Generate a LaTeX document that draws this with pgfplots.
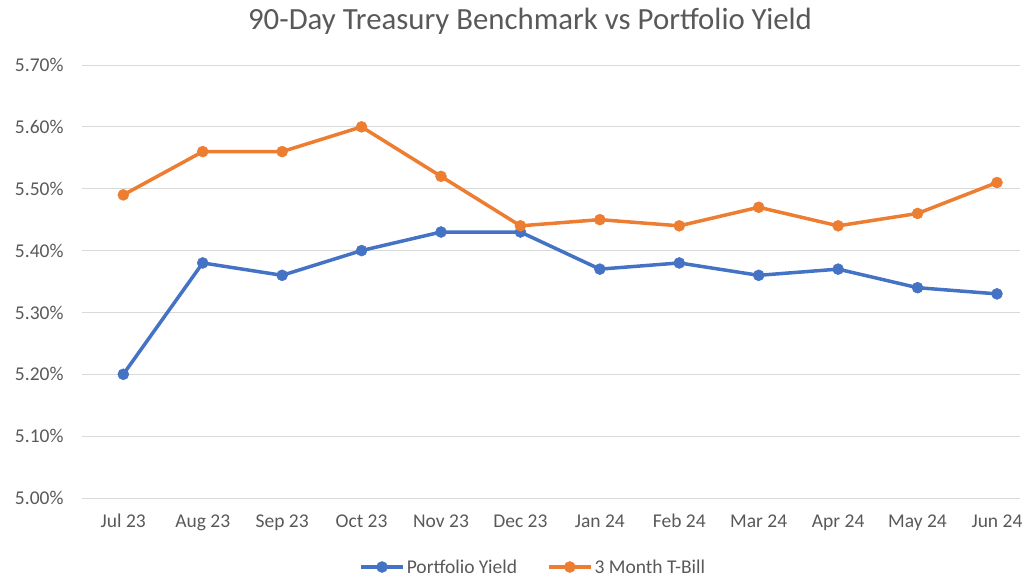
\documentclass[border=0pt]{standalone}
\usepackage{fontspec}
\setmainfont{Carlito}
\usepackage{pgfplots}
\pgfplotsset{compat=1.18}
\definecolor{cblue}{HTML}{4472C4}
\definecolor{corange}{HTML}{ED7D31}
\definecolor{cgrid}{HTML}{D9D9D9}
\definecolor{ctext}{HTML}{595959}
\begin{document}
\begin{tikzpicture}
\useasboundingbox (0,0) rectangle (1022pt,579pt);
\node[text=ctext,font=\fontsize{30.8}{34}\selectfont] at (530pt,558pt) {90-Day Treasury Benchmark vs Portfolio Yield};
\begin{axis}[
  at={(82pt,81pt)}, anchor=south west,
  scale only axis, width=938pt, height=433pt,
  xmin=-0.52, xmax=11.29, ymin=5.00, ymax=5.70,
  ytick={5.0,5.1,5.2,5.3,5.4,5.5,5.6,5.7},
  xtick={0,...,11},
  xticklabels={Jul 23,Aug 23,Sep 23,Oct 23,Nov 23,Dec 23,Jan 24,Feb 24,Mar 24,Apr 24,May 24,Jun 24},
  yticklabel={\pgfmathprintnumber[fixed,fixed zerofill,precision=2]{\tick}\%},
  /pgf/number format/assume math mode=true,
  ticklabel style={font=\fontsize{19.5}{22}\selectfont, text=ctext},
  xticklabel style={yshift=-18pt, text height=1.6ex, text depth=0.3ex},
  yticklabel style={xshift=-15pt},
  major tick length=0pt,
  ymajorgrids, grid style={cgrid, line width=1pt},
  axis lines*=left,
  x axis line style={cgrid, line width=1pt, -},
  y axis line style={draw=none},
  legend columns=2,
  legend style={draw=none, fill=none, at={(0.481,0)}, anchor=center, yshift=-69pt,
    font=\fontsize{19.5}{22}\selectfont, text=ctext,
    /tikz/every even column/.append style={column sep=28pt}},
  legend image code/.code={\draw[#1,mark=none] (0pt,0pt)--(42pt,0pt);
    \draw[#1,only marks] plot coordinates {(21pt,0pt)};},
  every axis plot/.append style={line width=3.5pt, mark=*, mark size=5.5pt},
]
\addplot[cblue, mark options={fill=cblue, draw=cblue, line width=0.5pt}] coordinates {
(0,5.20)(1,5.38)(2,5.36)(3,5.40)(4,5.43)(5,5.43)(6,5.37)(7,5.38)(8,5.36)(9,5.37)(10,5.34)(11,5.33)};
\addlegendentry{Portfolio Yield}
\addplot[corange, mark options={fill=corange, draw=corange, line width=0.5pt}] coordinates {
(0,5.49)(1,5.56)(2,5.56)(3,5.60)(4,5.52)(5,5.44)(6,5.45)(7,5.44)(8,5.47)(9,5.44)(10,5.46)(11,5.51)};
\addlegendentry{3 Month T-Bill}
\end{axis}
\end{tikzpicture}
\end{document}
